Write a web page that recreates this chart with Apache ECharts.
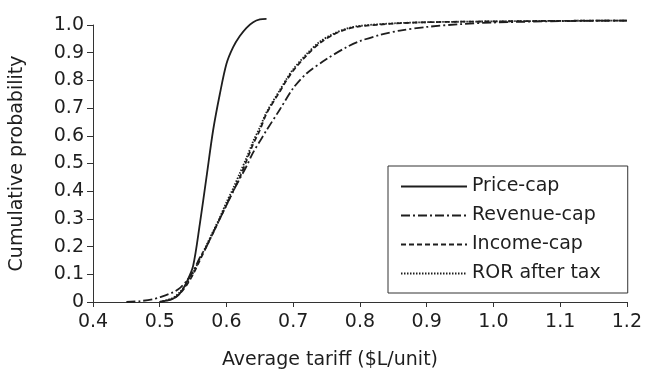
<!DOCTYPE html>
<html>
<head>
<meta charset="utf-8">
<script src="https://cdn.jsdelivr.net/npm/echarts@6/dist/echarts.min.js"></script>
<style>
  html, body { margin: 0; padding: 0; background: #fff; }
  #chart { width: 645px; height: 375px; }
</style>
</head>
<body>
<div id="chart"></div>
<script>
// cumulative probability curves, [tariff, probability]
const priceCap = [
  [0.50, 0], [0.51, 0.005], [0.52, 0.012], [0.53, 0.03], [0.54, 0.07],
  [0.55, 0.13], [0.56, 0.28], [0.57, 0.45], [0.58, 0.62], [0.59, 0.75],
  [0.60, 0.86], [0.61, 0.92], [0.62, 0.96], [0.63, 0.99], [0.64, 1.01],
  [0.65, 1.02], [0.66, 1.022]
];
const revenueCap = [
  [0.45, 0], [0.47, 0.003], [0.49, 0.01], [0.50, 0.017], [0.52, 0.035],
  [0.53, 0.05], [0.54, 0.075], [0.55, 0.11], [0.56, 0.16], [0.57, 0.2],
  [0.58, 0.25], [0.59, 0.3], [0.60, 0.35], [0.61, 0.4], [0.62, 0.445],
  [0.63, 0.49], [0.64, 0.54], [0.65, 0.58], [0.66, 0.62], [0.68, 0.695],
  [0.70, 0.772], [0.72, 0.825], [0.75, 0.877], [0.78, 0.92], [0.80, 0.942],
  [0.83, 0.964], [0.86, 0.98], [0.90, 0.993], [0.95, 1.003], [1.0, 1.009],
  [1.1, 1.014], [1.2, 1.016]
];
const incomeCap = [
  [0.50, 0], [0.52, 0.012], [0.53, 0.03], [0.54, 0.06], [0.55, 0.1],
  [0.56, 0.15], [0.57, 0.2], [0.58, 0.25], [0.59, 0.3], [0.60, 0.35],
  [0.61, 0.4], [0.62, 0.45], [0.63, 0.51], [0.64, 0.57], [0.65, 0.62],
  [0.66, 0.68], [0.68, 0.76], [0.69, 0.8], [0.70, 0.835], [0.72, 0.89],
  [0.74, 0.935], [0.76, 0.965], [0.78, 0.985], [0.80, 0.995], [0.85, 1.005],
  [0.90, 1.01], [1.0, 1.013], [1.1, 1.015], [1.2, 1.016]
];
const rorAfterTax = [
  [0.50, 0], [0.52, 0.015], [0.53, 0.035], [0.54, 0.065], [0.55, 0.105],
  [0.56, 0.155], [0.57, 0.205], [0.58, 0.255], [0.59, 0.305], [0.60, 0.36],
  [0.61, 0.41], [0.62, 0.465], [0.63, 0.52], [0.64, 0.58], [0.65, 0.63],
  [0.66, 0.685], [0.68, 0.765], [0.69, 0.805], [0.70, 0.84], [0.72, 0.895],
  [0.74, 0.94], [0.76, 0.968], [0.78, 0.987], [0.80, 0.997], [0.85, 1.006],
  [0.90, 1.01], [1.0, 1.013], [1.1, 1.015], [1.2, 1.016]
];
const seriesNames = ['Price-cap', 'Revenue-cap', 'Income-cap', 'ROR after tax'];

const FONT = 'DejaVu Sans';
const INK = '#1e1e1e';

const chart = echarts.init(document.getElementById('chart'));

function curve(name, data, type) {
  return {
    name: name,
    type: 'line',
    data: data,
    smooth: 0.3,
    symbol: 'none',
    showSymbol: false,
    clip: false,
    lineStyle: { color: INK, width: 1.8, type: type },
    itemStyle: { color: INK },
    z: 3
  };
}

chart.setOption({
  animation: false,
  grid: { left: 92, right: 17, top: 25, bottom: 62 },
  legend: {
    orient: 'vertical',
    left: 388,
    top: 166,
    padding: [11, 27, 10, 12],
    itemWidth: 66,
    itemHeight: 14,
    itemGap: 10,
    borderColor: '#333',
    borderWidth: 1,
    data: seriesNames,
    itemStyle: { opacity: 0 },
    textStyle: { fontFamily: FONT, fontSize: 19, color: INK },
    backgroundColor: '#fff'
  },
  xAxis: {
    type: 'value',
    min: 0.4,
    max: 1.2,
    interval: 0.1,
    name: 'Average tariff ($L/unit)',
    nameLocation: 'middle',
    nameGap: 49,
    nameTextStyle: { fontFamily: FONT, fontSize: 19, color: INK, padding: [0, 60, 0, 0] },
    axisLine: { lineStyle: { color: '#333', width: 1 } },
    axisTick: { show: true, length: 5, lineStyle: { color: '#333' } },
    axisLabel: {
      fontFamily: FONT, fontSize: 19, color: INK, margin: 11,
      formatter: (v) => v.toFixed(1)
    },
    splitLine: { show: false }
  },
  yAxis: {
    type: 'value',
    min: 0,
    max: 1,
    interval: 0.1,
    name: 'Cumulative probability',
    nameLocation: 'middle',
    nameGap: 66,
    nameTextStyle: { fontFamily: FONT, fontSize: 19, color: INK },
    axisLine: { show: true, lineStyle: { color: '#333', width: 1 } },
    axisTick: { show: true, length: 6, lineStyle: { color: '#333' } },
    axisLabel: {
      fontFamily: FONT, fontSize: 19, color: INK, margin: 9,
      formatter: (v) => (v === 0 ? '0' : v.toFixed(1))
    },
    splitLine: { show: false }
  },
  series: [
    curve(seriesNames[0], priceCap, 'solid'),
    curve(seriesNames[1], revenueCap, [9, 3, 2, 3]),
    curve(seriesNames[2], incomeCap, [5, 3]),
    curve(seriesNames[3], rorAfterTax, [1.5, 1.5])
  ]
});
</script>
</body>
</html>
